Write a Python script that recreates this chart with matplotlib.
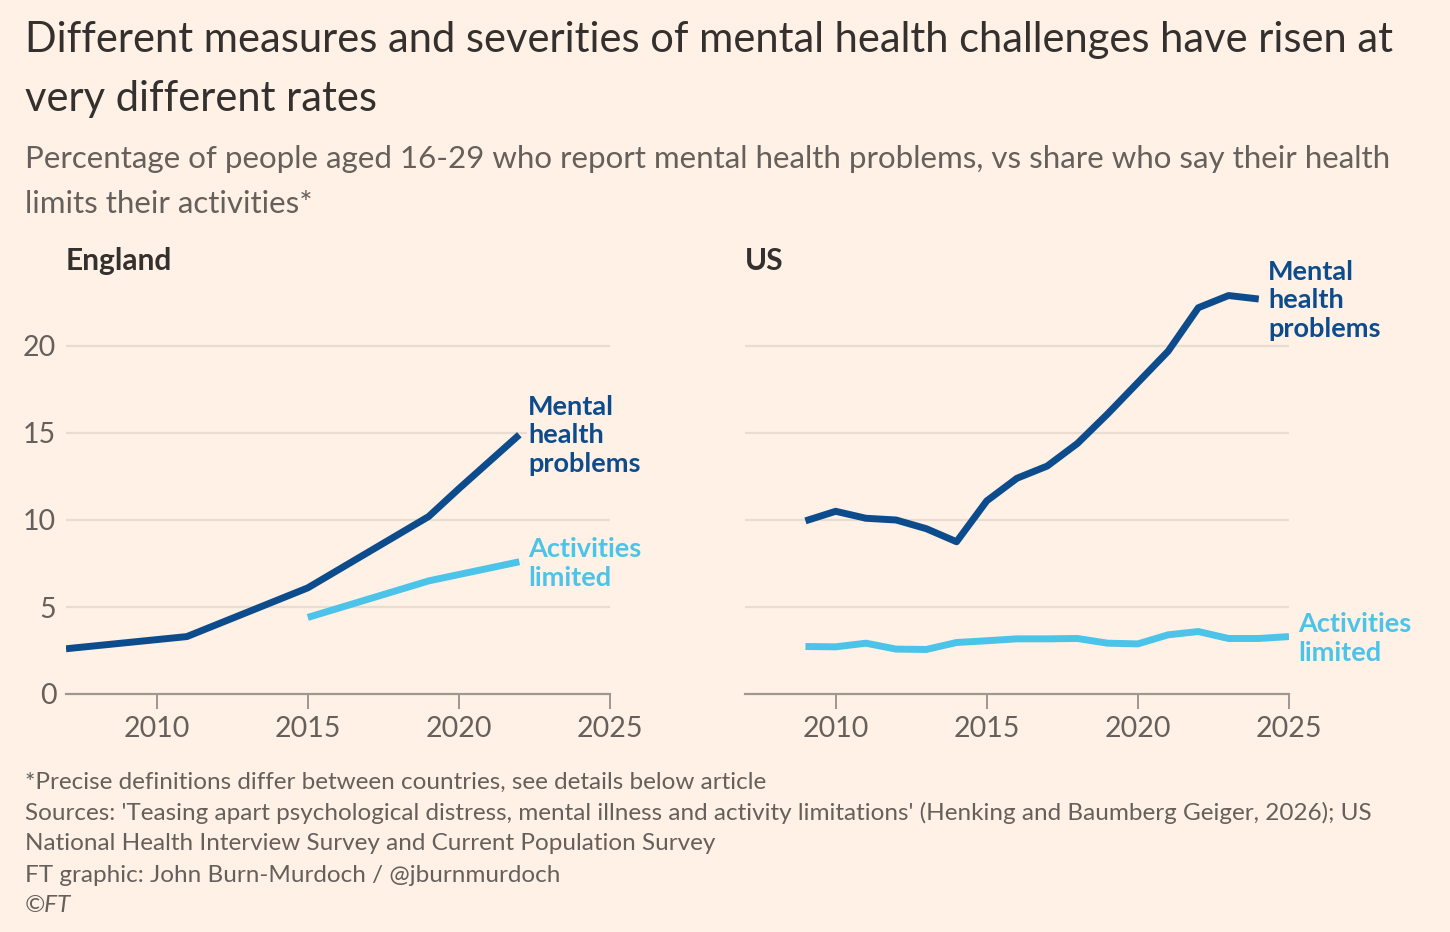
# FT style chart: mental health problems vs activities limited, England and US
import matplotlib.pyplot as plt

# England data
eng_mh_years = [2007, 2011, 2015, 2019, 2020, 2022]
eng_mh_vals = [2.6, 3.3, 6.1, 10.2, 11.8, 14.9]
eng_act_years = [2015, 2019, 2022]
eng_act_vals = [4.4, 6.5, 7.6]

# US data
us_years = [2009, 2010, 2011, 2012, 2013, 2014, 2015, 2016, 2017, 2018,
            2019, 2020, 2021, 2022, 2023, 2024]
us_mh_vals = [9.95, 10.5, 10.1, 10.0, 9.5, 8.75, 11.1, 12.4, 13.1, 14.4,
              16.1, 17.9, 19.7, 22.2, 22.9, 22.7]
us_act_years = [2009, 2010, 2011, 2012, 2013, 2014, 2015, 2016, 2017, 2018,
                2019, 2020, 2021, 2022, 2023, 2024, 2025]
us_act_vals = [2.73, 2.71, 2.92, 2.58, 2.56, 2.96, 3.06, 3.17, 3.17, 3.19,
               2.92, 2.88, 3.4, 3.59, 3.19, 3.19, 3.3]

x_ticks = [2010, 2015, 2020, 2025]
y_ticks = [0, 5, 10, 15, 20]

BG = '#FFF1E5'
DARK = '#0D4C8C'
LIGHT = '#4CC3E8'
GREY = '#66605C'
GRID = '#E9DDD1'

plt.rcParams['font.family'] = ['Lato', 'DejaVu Sans']

fig = plt.figure(figsize=(14.5, 9.32), dpi=100, facecolor=BG)

# titles
fig.text(25 / 1450, 1 - 21 / 932,
         'Different measures and severities of mental health challenges have risen at\nvery different rates',
         fontsize=30, color='#33302E', va='top', ha='left', linespacing=1.68)
fig.text(25 / 1450, 1 - 145 / 932,
         'Percentage of people aged 16-29 who report mental health problems, vs share who say their health\nlimits their activities*',
         fontsize=22.5, color=GREY, va='top', ha='left', linespacing=1.74)


def setup_axes(ax, show_ylabels):
    ax.set_facecolor(BG)
    ax.set_xlim(2007, 2025)
    ax.set_ylim(0, 24)
    for s in ['top', 'right', 'left']:
        ax.spines[s].set_visible(False)
    ax.spines['bottom'].set_color('#9E9691')
    ax.spines['bottom'].set_linewidth(1.6)
    ax.set_xticks(x_ticks)
    ax.set_xticklabels([str(t) for t in x_ticks])
    ax.set_yticks(y_ticks)
    ax.tick_params(axis='x', length=11, width=1.4, color='#9E9691',
                   labelsize=20.5, labelcolor=GREY, pad=5)
    ax.tick_params(axis='y', length=0, labelsize=20.5, labelcolor=GREY, pad=7)
    if not show_ylabels:
        ax.set_yticklabels([])
    for y in y_ticks[1:]:
        ax.axhline(y, color=GRID, lw=1.6, zorder=0)


label_kw = dict(fontsize=19.5, fontweight='bold', va='top', ha='left',
                linespacing=1.22, clip_on=False,
                bbox=dict(facecolor=BG, edgecolor='none', pad=0.5))

# England panel
ax1 = fig.add_axes([66 / 1450, 1 - 694 / 932, 544 / 1450, 417.6 / 932])
setup_axes(ax1, True)
ax1.plot(eng_mh_years, eng_mh_vals, color=DARK, lw=5, solid_capstyle='butt')
ax1.plot(eng_act_years, eng_act_vals, color=LIGHT, lw=5, solid_capstyle='butt')
ax1.text(0.0, 1.0 + 1 / 417.6, 'England', transform=ax1.transAxes, fontsize=21.5,
         fontweight='bold', color='#33302E', va='bottom', ha='left')
ax1.text(2007 + (528 - 66) / 30.22, 17.2, 'Mental\nhealth\nproblems', color=DARK, **label_kw)
ax1.text(2007 + (528 - 66) / 30.22, 9.0, 'Activities\nlimited', color=LIGHT, **label_kw)

# US panel
ax2 = fig.add_axes([745 / 1450, 1 - 694 / 932, 544 / 1450, 417.6 / 932])
setup_axes(ax2, False)
ax2.plot(us_years, us_mh_vals, color=DARK, lw=5, solid_capstyle='butt')
ax2.plot(us_act_years, us_act_vals, color=LIGHT, lw=5, solid_capstyle='butt')
ax2.text(0.0, 1.0 + 1 / 417.6, 'US', transform=ax2.transAxes, fontsize=21.5,
         fontweight='bold', color='#33302E', va='bottom', ha='left')
ax2.text(2007 + (1268 - 745) / 30.22, 24.95, 'Mental\nhealth\nproblems', color=DARK, **label_kw)
ax2.text(2007 + (1298 - 745) / 30.22, 4.7, 'Activities\nlimited', color=LIGHT, **label_kw)

# footer
footer = ["*Precise definitions differ between countries, see details below article",
          "Sources: 'Teasing apart psychological distress, mental illness and activity limitations' (Henking and Baumberg Geiger, 2026); US",
          "National Health Interview Survey and Current Population Survey",
          "FT graphic: John Burn-Murdoch / @jburnmurdoch"]
for i, line in enumerate(footer):
    fig.text(25 / 1450, 1 - (782 + 31 * i) / 932, line, fontsize=17.5,
             color=GREY, va='center', ha='left')
fig.text(25 / 1450, 1 - 906 / 932, '©FT', fontsize=17.5, color=GREY,
         va='center', ha='left', style='italic')

fig.savefig('out.png', dpi=100, facecolor=BG)
